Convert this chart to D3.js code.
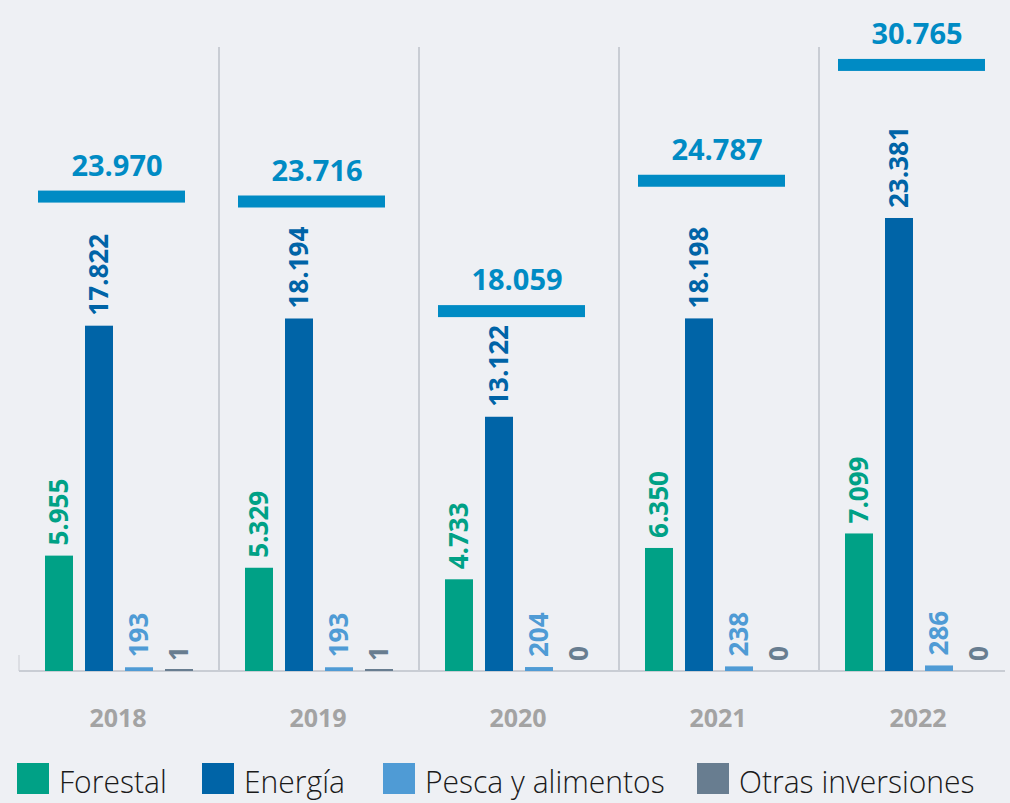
<!DOCTYPE html>
<html>
<head>
<meta charset="utf-8">
<script src="https://cdn.jsdelivr.net/npm/d3@7"></script>
<style>
  html, body { margin: 0; padding: 0; background: #eef0f4; }
  svg { display: block; font-family: "Open Sans", sans-serif; }
</style>
</head>
<body>
<svg id="chart" width="1010" height="803"></svg>
<script>
const years = ["2018", "2019", "2020", "2021", "2022"];
const seriesNames = ["Forestal", "Energía", "Pesca y alimentos", "Otras inversiones"];
const forestal = [5955, 5329, 4733, 6350, 7099];
const energia = [17822, 18194, 13122, 18198, 23381];
const pesca = [193, 193, 204, 238, 286];
const otras = [1, 1, 0, 0, 0];
const totals = [23970, 23716, 18059, 24787, 30765];
const seriesValues = [forestal, energia, pesca, otras];
const barColors = ["#00a186", "#0064a7", "#4f9bd5", "#687d90"];
const labelColors = ["#00a186", "#0064a7", "#4f9bd5", "#687d90"];
const totalColor = "#008bc4";

const fmt = v => d3.format(",")(v).replace(/,/g, ".");

const svg = d3.select("#chart");
const baseY = 671;
const x0 = d3.scaleBand().domain(years).range([19, 1019]).paddingInner(0).paddingOuter(0);
const x1 = d3.scaleBand().domain(seriesNames).range([0, x0.bandwidth()]).paddingInner(0.3).paddingOuter(0.65);
const y = d3.scaleLinear().domain([0, 32000]).range([baseY, 51]);

// dividers
svg.append("g").selectAll("line").data(years.slice(1)).join("line")
  .attr("x1", d => x0(d)).attr("x2", d => x0(d))
  .attr("y1", 47).attr("y2", baseY)
  .attr("stroke", "#c9cdd4").attr("stroke-width", 2);
svg.append("line").attr("x1", 19).attr("x2", 19).attr("y1", 655).attr("y2", baseY)
  .attr("stroke", "#d6d9de").attr("stroke-width", 1.5);

// baseline
svg.append("line").attr("x1", 19).attr("x2", 1005).attr("y1", baseY).attr("y2", baseY)
  .attr("stroke", "#c9cdd4").attr("stroke-width", 2);

// bars
const groups = svg.append("g").selectAll("g").data(years).join("g")
  .attr("transform", d => `translate(${x0(d)},0)`);

groups.each(function(yr, i) {
  const g = d3.select(this);
  const data = seriesNames.map((s, k) => ({ s, k, v: seriesValues[k][i] }));
  g.selectAll("rect.bar").data(data).join("rect").attr("class", "bar")
    .attr("x", d => x1(d.s))
    .attr("width", x1.bandwidth())
    .attr("y", d => d.v > 0 ? Math.min(y(d.v), baseY - 2) : baseY)
    .attr("height", d => d.v > 0 ? Math.max(baseY - y(d.v), 2) : 0)
    .attr("fill", d => barColors[d.k]);
  g.selectAll("text.val").data(data).join("text").attr("class", "val")
    .attr("transform", d => `translate(${x1(d.s) + x1.bandwidth() / 2 + 9},${y(d.v) - 10}) rotate(-90)`)
    .attr("text-anchor", "start")
    .attr("font-size", 26).attr("font-weight", 700)
    .attr("fill", d => labelColors[d.k])
    .text(d => fmt(d.v));
  // total marker
  g.append("rect")
    .attr("x", 19).attr("width", 147)
    .attr("y", y(totals[i]) - 16).attr("height", 12)
    .attr("fill", totalColor);
  g.append("text")
    .attr("x", 98).attr("y", y(totals[i]) - 31)
    .attr("text-anchor", "middle")
    .attr("font-size", 29).attr("font-weight", 700)
    .attr("fill", totalColor)
    .text(fmt(totals[i]));
});

// x axis labels
svg.append("g").selectAll("text").data(years).join("text")
  .attr("x", d => x0(d) + x0.bandwidth() / 2 - 1)
  .attr("y", 727)
  .attr("text-anchor", "middle")
  .attr("font-size", 25).attr("font-weight", 700)
  .attr("fill", "#a3a3a3")
  .text(d => d);

// legend
const legend = svg.append("g");
const legendX = [17, 202, 383, 697];
seriesNames.forEach((s, k) => {
  const lg = legend.append("g").attr("transform", `translate(${legendX[k]},763)`);
  lg.append("rect").attr("width", 32).attr("height", 31).attr("fill", barColors[k]);
  lg.append("text")
    .attr("transform", "translate(42,30) scale(0.97,1)")
    .attr("font-size", 31).attr("font-weight", 300)
    .attr("fill", "#1a1a1a")
    .text(s);
});
</script>
</body>
</html>
